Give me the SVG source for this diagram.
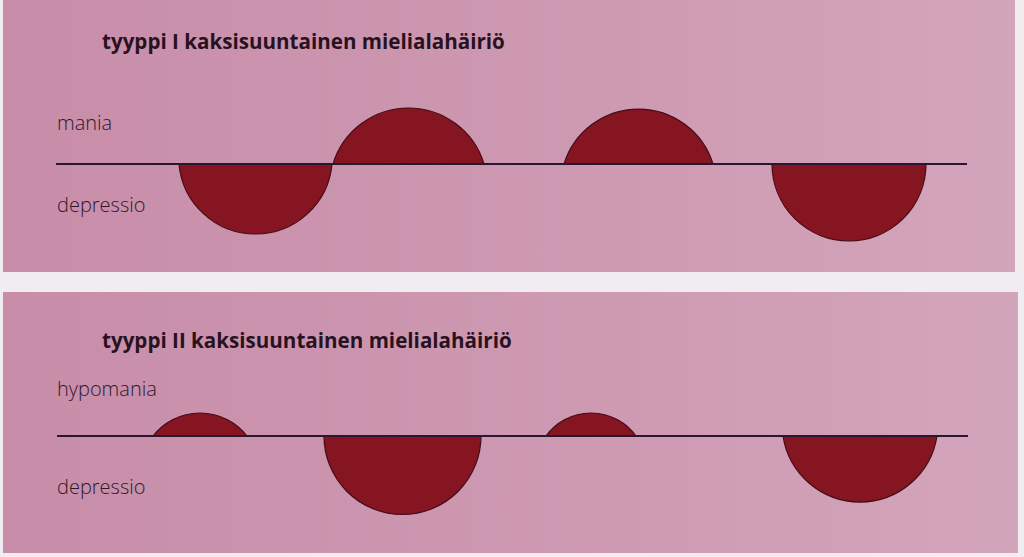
<svg xmlns="http://www.w3.org/2000/svg" width="1024" height="557" viewBox="0 0 1024 557">
  <defs>
    <linearGradient id="bg" x1="0" y1="0" x2="1" y2="0">
      <stop offset="0" stop-color="#c88da9"/>
      <stop offset="0.6" stop-color="#ce9ab2"/>
      <stop offset="1" stop-color="#d3a5bb"/>
    </linearGradient>
  </defs>
  <style>
    .panel { fill: url(#bg); }
    .title { font-family: "Open Sans", "Noto Sans", sans-serif; font-weight: 700; font-size: 20.6px; fill: #28121f; }
    .label { font-family: "Open Sans", "Noto Sans", sans-serif; font-weight: 300; font-size: 20px; fill: #2e1828; }
    .ep { fill: #851520; stroke: #450a18; stroke-width: 1.2; }
    .axis { stroke: #2a1630; stroke-width: 2; fill: none; }
  </style>
  <rect x="0" y="0" width="1024" height="557" fill="#f1ecef"/>

  <g id="panel1">
    <rect class="panel" x="3" y="0" width="1012" height="272"/>
    <text class="title" x="102" y="49">tyyppi I kaksisuuntainen mielialahäiriö</text>
    <text class="label" x="57" y="130">mania</text>
    <text class="label" x="57" y="212">depressio</text>
    <g id="p1-dep1"><path class="ep" d="M179 164 A76.8 76.8 0 0 0 332 164 Z"/></g>
    <g id="p1-man1"><path class="ep" d="M333 164 A78.9 78.9 0 0 1 484 164 Z"/></g>
    <g id="p1-man2"><path class="ep" d="M564 164 A78 78 0 0 1 713 164 Z"/></g>
    <g id="p1-dep2"><path class="ep" d="M772 164 A77 77 0 0 0 926 164 Z"/></g>
  </g>

  <g id="panel2">
    <rect class="panel" x="3" y="292" width="1015" height="261"/>
    <text class="title" x="102" y="348">tyyppi II kaksisuuntainen mielialahäiriö</text>
    <text class="label" x="57" y="396">hypomania</text>
    <text class="label" x="57" y="494">depressio</text>
    <g id="p2-hyp1"><path class="ep" d="M153 436 A59.5 59.5 0 0 1 247 436 Z"/></g>
    <g id="p2-dep1"><path class="ep" d="M324 436 A78.5 78.5 0 0 0 481 436 Z"/></g>
    <g id="p2-hyp2"><path class="ep" d="M546 436 A55.5 55.5 0 0 1 636 436 Z"/></g>
    <g id="p2-dep2"><path class="ep" d="M783 436 A77.9 77.9 0 0 0 937 436 Z"/></g>
  </g>

  <g id="connectors">
    <line class="axis" x1="56" y1="164" x2="967" y2="164"/>
    <line class="axis" x1="57" y1="436" x2="968" y2="436"/>
  </g>
</svg>
